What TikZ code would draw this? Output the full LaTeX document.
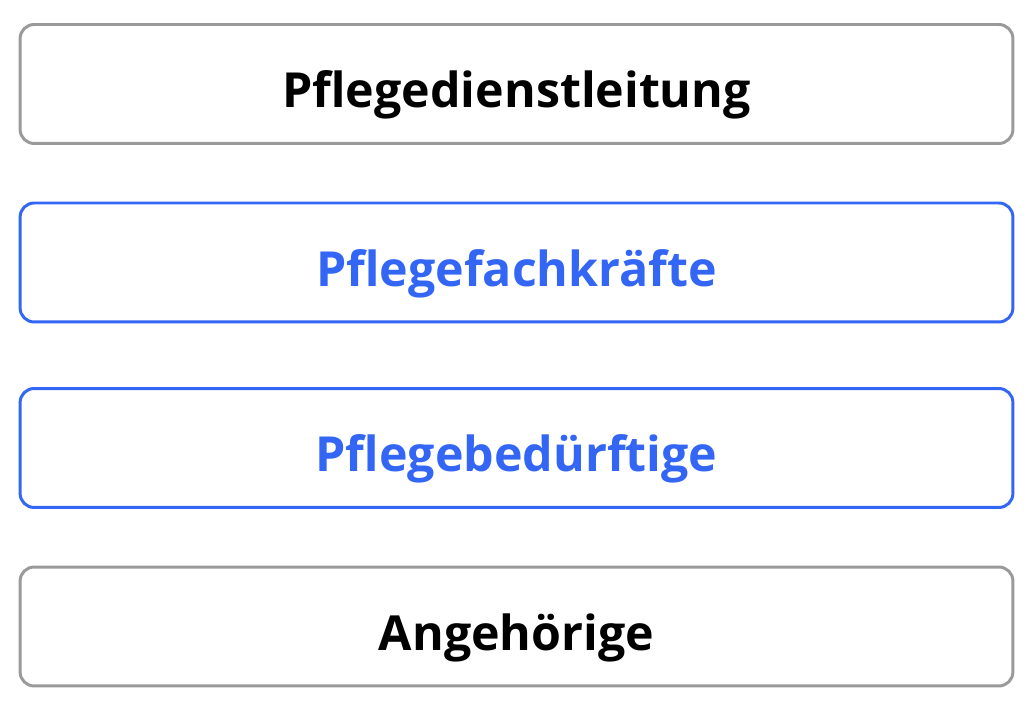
\documentclass[tikz,border=0pt]{standalone}
\usepackage{fontspec}
\setmainfont{Open Sans}
\definecolor{rahmengrau}{HTML}{9A9A9A}
\definecolor{pflegeblau}{HTML}{3366F5}
\begin{document}
\begin{tikzpicture}[x=0.02cm, y=-0.02cm,
    stufe/.style={draw=rahmengrau, line width=1.7pt, rounded corners=8pt,
        minimum width=19.86cm, minimum height=2.38cm, inner sep=0pt,
        text height=0.96cm, text depth=0pt,
        font=\fontsize{27.5}{33}\selectfont\bfseries},
    pflege/.style={stufe, draw=pflegeblau, text=pflegeblau}]

    \useasboundingbox (0,0) rectangle (1024,715);

    \node[stufe]  (leitung)   at (516.5,84)    {Pflegedienstleitung};
    \node[pflege] (fachkraft) at (516.5,262.5) {Pflegefachkräfte};
    \node[pflege] (beduerft)  at (516.5,448)   {Pflegebedürftige};
    \node[stufe]  (angeh)     at (516.5,626.5) {Angehörige};

\end{tikzpicture}
\end{document}
